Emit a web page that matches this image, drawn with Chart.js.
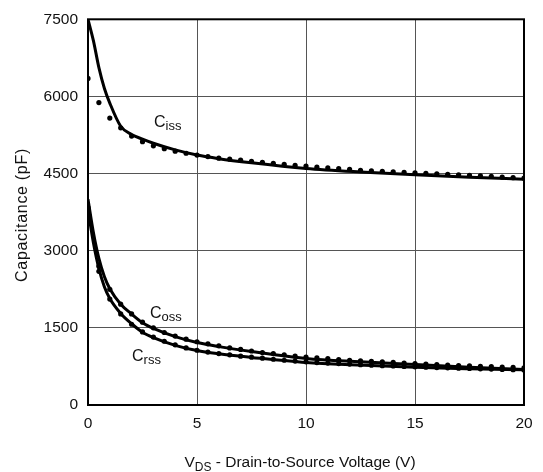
<!DOCTYPE html>
<html>
<head>
<meta charset="utf-8">
<script src="https://cdn.jsdelivr.net/npm/chart.js@4.4.1/dist/chart.umd.min.js"></script>
<style>
html,body{margin:0;padding:0;background:#fff;}
#wrap{width:543px;height:472px;position:relative;}
</style>
</head>
<body>
<div id="wrap"><canvas id="c" width="543" height="472"></canvas></div>
<script>
// Model curves (solid lines)
const vLine = [0, 0.25, 0.5, 0.75, 1, 1.5, 2, 2.5, 3, 4, 5, 6, 7.5, 10, 12.5, 15, 17.5, 20];
const cissLine = [7500, 7080, 6560, 6160, 5870, 5420, 5260, 5170, 5090, 4960, 4860, 4790, 4710, 4600, 4530, 4475, 4430, 4390];
const cossLine = [4000, 3350, 2850, 2500, 2260, 1960, 1770, 1600, 1490, 1330, 1215, 1135, 1040, 905, 840, 786, 735, 690];
const crssLine = [3800, 3150, 2650, 2300, 2070, 1780, 1580, 1415, 1310, 1160, 1058, 995, 925, 825, 775, 732, 705, 685];

// Measured points (dots)
const vDots = [0, 0.5, 1, 1.5, 2, 2.5, 3, 3.5, 4, 4.5, 5, 5.5, 6, 6.5, 7, 7.5, 8, 8.5, 9, 9.5, 10,
               10.5, 11, 11.5, 12, 12.5, 13, 13.5, 14, 14.5, 15, 15.5, 16, 16.5, 17, 17.5, 18, 18.5, 19, 19.5, 20];
const cissDots = [6350, 5880, 5580, 5390, 5230, 5120, 5040, 4985, 4935, 4895, 4860, 4830, 4800, 4780, 4760, 4740, 4720, 4700, 4680, 4660, 4645,
                  4625, 4610, 4595, 4580, 4565, 4555, 4545, 4535, 4525, 4515, 4505, 4495, 4485, 4475, 4465, 4455, 4445, 4430, 4420, 4410];
const cossDots = [3840, 2700, 2250, 1960, 1770, 1610, 1500, 1410, 1340, 1280, 1230, 1190, 1150, 1110, 1080, 1050, 1020, 1000, 975, 950, 930,
                  915, 900, 885, 870, 860, 850, 840, 830, 815, 805, 795, 785, 775, 765, 760, 750, 745, 735, 730, 720];
const crssDots = [3680, 2600, 2060, 1770, 1570, 1420, 1320, 1240, 1170, 1110, 1065, 1030, 1000, 975, 950, 930, 910, 890, 870, 855, 840,
                  825, 815, 805, 795, 785, 775, 765, 758, 750, 742, 735, 728, 722, 716, 710, 704, 698, 692, 686, 680];

const xTicks = [0, 5, 10, 15, 20];
const yTicks = [0, 1500, 3000, 4500, 6000, 7500];

const seriesLabels = [
  {main: 'C', sub: 'iss', x: 3.03, y: 5400},
  {main: 'C', sub: 'oss', x: 2.84, y: 1688},
  {main: 'C', sub: 'rss', x: 2.02, y: 863}
];

const toPts = (xs, ys) => xs.map((x, i) => ({x: x, y: ys[i]}));

const FONT = '"Liberation Sans", Arial, Helvetica, sans-serif';

const lineDs = (ys) => ({
  data: toPts(vLine, ys), showLine: true, borderColor: '#000', borderWidth: 3,
  pointRadius: 0, cubicInterpolationMode: 'monotone', fill: false
});
const dotDs = (ys) => ({
  data: toPts(vDots, ys), showLine: false, pointRadius: 2.6, pointBackgroundColor: '#000',
  pointBorderColor: '#000', pointBorderWidth: 0
});

const decor = {
  id: 'decor',
  afterDraw(chart) {
    const ctx = chart.ctx, a = chart.chartArea;
    const xs = chart.scales.x, ys = chart.scales.y;
    ctx.save();
    ctx.strokeStyle = '#000';
    ctx.lineWidth = 2;
    ctx.strokeRect(a.left, a.top, a.right - a.left, a.bottom - a.top);
    ctx.fillStyle = '#111';
    // series labels
    seriesLabels.forEach(l => {
      const px = xs.getPixelForValue(l.x), py = ys.getPixelForValue(l.y);
      ctx.font = '16px ' + FONT;
      ctx.textAlign = 'left'; ctx.textBaseline = 'alphabetic';
      ctx.fillText(l.main, px, py);
      const w = ctx.measureText(l.main).width;
      ctx.font = '13px ' + FONT;
      ctx.fillText(l.sub, px + w, py + 3);
    });
    // x title with subscript
    const xMain = 'V', xSub = 'DS', xRest = ' - Drain-to-Source Voltage (V)';
    ctx.font = '15.5px ' + FONT;
    const w1 = ctx.measureText(xMain).width, w3 = ctx.measureText(xRest).width;
    ctx.font = '12px ' + FONT;
    const w2 = ctx.measureText(xSub).width;
    let sx = 300 - (w1 + w2 + w3) / 2;
    const by = 467;
    ctx.font = '15.5px ' + FONT;
    ctx.fillText(xMain, sx, by);
    ctx.font = '12px ' + FONT;
    ctx.fillText(xSub, sx + w1, by + 4);
    ctx.font = '15.5px ' + FONT;
    ctx.fillText(xRest, sx + w1 + w2, by);
    // y title
    ctx.translate(23, 215);
    ctx.rotate(-Math.PI / 2);
    ctx.font = '16px ' + FONT;
    ctx.letterSpacing = '0.7px';
    ctx.textAlign = 'center'; ctx.textBaseline = 'middle';
    ctx.fillText('Capacitance (pF)', 0, 0);
    ctx.restore();
  }
};

new Chart(document.getElementById('c'), {
  type: 'scatter',
  data: {
    datasets: [lineDs(cissLine), lineDs(cossLine), lineDs(crssLine),
               dotDs(cissDots), dotDs(cossDots), dotDs(crssDots)]
  },
  options: {
    responsive: false,
    animation: false,
    devicePixelRatio: 1,
    layout: {padding: {left: 0, right: 19, top: 14, bottom: 0}},
    plugins: {legend: {display: false}, tooltip: {enabled: false}},
    scales: {
      x: {
        type: 'linear', min: 0, max: 20,
        afterBuildTicks: s => { s.ticks = xTicks.map(v => ({value: v})); },
        afterFit: s => { s.height = 67; },
        grid: {color: '#555', lineWidth: 1, drawTicks: false},
        border: {display: false},
        ticks: {color: '#111', font: {family: FONT, size: 15.5}, padding: 9, maxRotation: 0,
                callback: v => String(v)}
      },
      y: {
        type: 'linear', min: 0, max: 7500,
        afterBuildTicks: s => { s.ticks = yTicks.map(v => ({value: v})); },
        afterFit: s => { s.width = 88; },
        grid: {color: '#555', lineWidth: 1, drawTicks: false},
        border: {display: false},
        ticks: {color: '#111', font: {family: FONT, size: 15.5}, padding: 10,
                callback: v => String(v)}
      }
    }
  },
  plugins: [decor]
});
</script>
</body>
</html>
